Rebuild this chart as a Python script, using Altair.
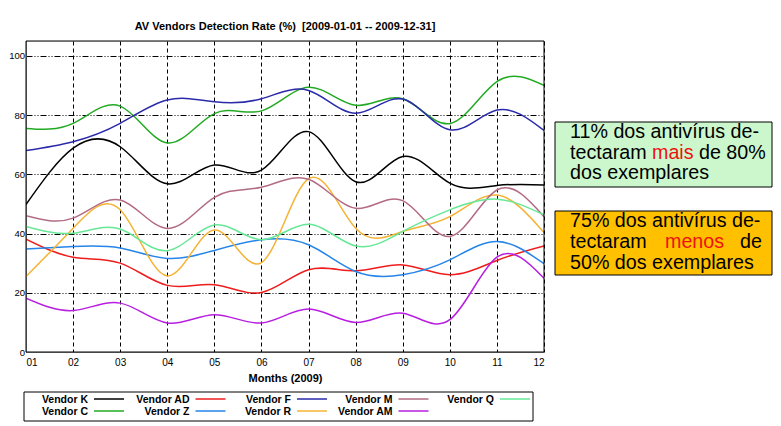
import altair as alt
import pandas as pd

months = list(range(1, 13))
vendors = ["Vendor K", "Vendor C", "Vendor AD", "Vendor Z", "Vendor F",
           "Vendor R", "Vendor M", "Vendor AM", "Vendor Q"]

k  = [49.8, 68.8, 69.3, 56.8, 63.1, 61.4, 74.4, 57.5, 66.0, 57.0, 56.2, 56.4]
c  = [75.5, 77.2, 83.0, 70.6, 80.5, 81.4, 89.4, 83.3, 85.5, 77.1, 91.3, 90.0]
ad = [38.1, 32.0, 30.0, 22.5, 22.7, 20.1, 27.8, 27.4, 29.4, 26.1, 30.9, 35.8]
z  = [34.8, 35.6, 35.1, 31.6, 34.3, 37.9, 36.2, 27.2, 26.1, 31.1, 37.3, 29.8]
f  = [68.0, 71.0, 77.2, 85.1, 84.5, 85.5, 88.3, 80.6, 85.4, 75.0, 81.7, 74.8]
r  = [25.5, 41.8, 48.0, 25.7, 41.2, 30.2, 58.5, 41.8, 40.7, 45.7, 53.0, 40.3]
m  = [46.0, 45.2, 51.3, 41.7, 52.2, 55.6, 58.3, 48.5, 51.1, 39.0, 54.7, 45.7]
am = [18.2, 14.0, 16.5, 9.8, 12.6, 9.8, 14.5, 10.0, 13.1, 10.9, 32.0, 24.9]
q  = [42.4, 40.1, 41.5, 34.2, 42.9, 37.9, 43.1, 35.8, 40.7, 48.0, 51.6, 46.3]

series = [k, c, ad, z, f, r, m, am, q]
colors = ["#000000", "#22aa22", "#ee1c1c", "#2585e8", "#2a2aaa",
          "#f5b334", "#b36b85", "#b81ee0", "#66e896"]

y_ticks = [0, 20, 40, 60, 80, 100]
title_text = "AV Vendors Detection Rate (%)\u00a0 [2009-01-01 -- 2009-12-31]"
note1 = ["11% dos antivírus de-", "tectaram", "mais", "de 80%", "dos exemplares"]
note2 = ["75% dos antivírus de-", "tectaram", "menos", "de", "50% dos exemplares"]

rows = []
for v, vals in zip(vendors, series):
    for mo, val in zip(months, vals):
        rows.append({"vendor": v, "month": mo, "rate": val})
df = pd.DataFrame(rows)

FONT = "Liberation Sans"
W, H = 518, 311
color_scale = alt.Scale(domain=vendors, range=colors)
grid_style = dict(grid=True, gridColor="#000000", gridOpacity=1, gridWidth=1)

lines = alt.Chart(df).mark_line(interpolate="natural", strokeWidth=1.5, clip=True).encode(
    x=alt.X("month:Q",
            scale=alt.Scale(domain=[1, 12], nice=False, zero=False),
            axis=alt.Axis(values=months, title="Months (2009)",
                          labelExpr="datum.value < 10 ? '0' + datum.value : '' + datum.value",
                          gridDash=[4, 3], ticks=False, labelPadding=5, titlePadding=5,
                          **grid_style)),
    y=alt.Y("rate:Q",
            scale=alt.Scale(domain=[0, 105], nice=False),
            axis=alt.Axis(values=y_ticks, title=None, gridDash=[6, 2, 1, 2, 1, 2],
                          ticks=False, labelPadding=1.5, labelFontSize=9.5,
                          **grid_style)),
    color=alt.Color("vendor:N", scale=color_scale, legend=None),
)

one = pd.DataFrame({"a": [0]})
frame = alt.Chart(one).mark_rect(filled=False, stroke="black", strokeWidth=1).encode(
    x=alt.value(0), x2=alt.value(W), y=alt.value(0), y2=alt.value(H))

# legend (gnuplot-style: label then sample line, 2 rows)
leg = pd.DataFrame({"vendor": vendors, "idx": list(range(len(vendors)))})
leg_base = alt.Chart(leg).transform_calculate(
    col="floor(datum.idx / 2)",
    row="datum.idx % 2",
).transform_calculate(
    lx="62 + 101.5 * datum.col",
    sx="68 + 101.5 * datum.col",
    ex="98 + 101.5 * datum.col",
    ty="361.5 + 12 * datum.row",
    sy="358 + 12 * datum.row",
)
leg_text = leg_base.mark_text(align="right", baseline="alphabetic", font=FONT,
                              fontWeight="bold", fontSize=10.5, color="black").encode(
    x=alt.X("lx:Q", scale=None), y=alt.Y("ty:Q", scale=None), text="vendor:N")
leg_lines = leg_base.mark_rule(strokeWidth=1.5).encode(
    x=alt.X("sx:Q", scale=None), x2="ex:Q", y=alt.Y("sy:Q", scale=None),
    color=alt.Color("vendor:N", scale=color_scale, legend=None))
leg_box = alt.Chart(one).mark_rect(fill="white", stroke="black", strokeWidth=1).encode(
    x=alt.value(-2), x2=alt.value(507), y=alt.value(351), y2=alt.value(380))

# annotation boxes
box1 = alt.Chart(one).mark_rect(fill="#ccf7cc", stroke="black", strokeWidth=1).encode(
    x=alt.value(529), x2=alt.value(746), y=alt.value(81), y2=alt.value(146))
box2 = alt.Chart(one).mark_rect(fill="#ffc000", stroke="black", strokeWidth=1).encode(
    x=alt.value(529), x2=alt.value(746), y=alt.value(170), y2=alt.value(234))

def txt(s, x, y, color="black", align="left"):
    return alt.Chart(pd.DataFrame({"t": [s]})).mark_text(
        align=align, baseline="alphabetic", font=FONT, fontSize=19.7, color=color
    ).encode(text="t:N", x=alt.value(x), y=alt.value(y))

notes = [
    txt(note1[0], 544, 97),
    txt(note1[1], 544, 118),
    txt(note1[2], 626, 118, color="#ee1111"),
    txt(note1[3], 673, 118),
    txt(note1[4], 544, 138),
    txt(note2[0], 544, 185.5),
    txt(note2[1], 544, 207),
    txt(note2[2], 639, 207, color="#ee1111"),
    txt(note2[3], 736, 207, align="right"),
    txt(note2[4], 544, 228),
]

chart = alt.layer(lines, frame, leg_box, leg_lines, leg_text, box1, box2, *notes).properties(
    width=W, height=H,
    title=alt.TitleParams(title_text, fontSize=11, fontWeight="bold", font=FONT,
                          anchor="middle", offset=9, color="black"),
    autosize=alt.AutoSizeParams(type="none"),
    padding={"left": 18, "top": 33, "right": 229, "bottom": 71},
).configure_view(stroke="black", strokeWidth=1).configure_axis(
    domain=False,
    labelFont=FONT, labelFontWeight="bold", labelFontSize=10.5, labelColor="black",
    titleFont=FONT, titleFontWeight="bold", titleFontSize=10.5, titleColor="black",
).configure(background="white")

chart.save("out.html", embed_options={"renderer": "svg", "actions": False})
